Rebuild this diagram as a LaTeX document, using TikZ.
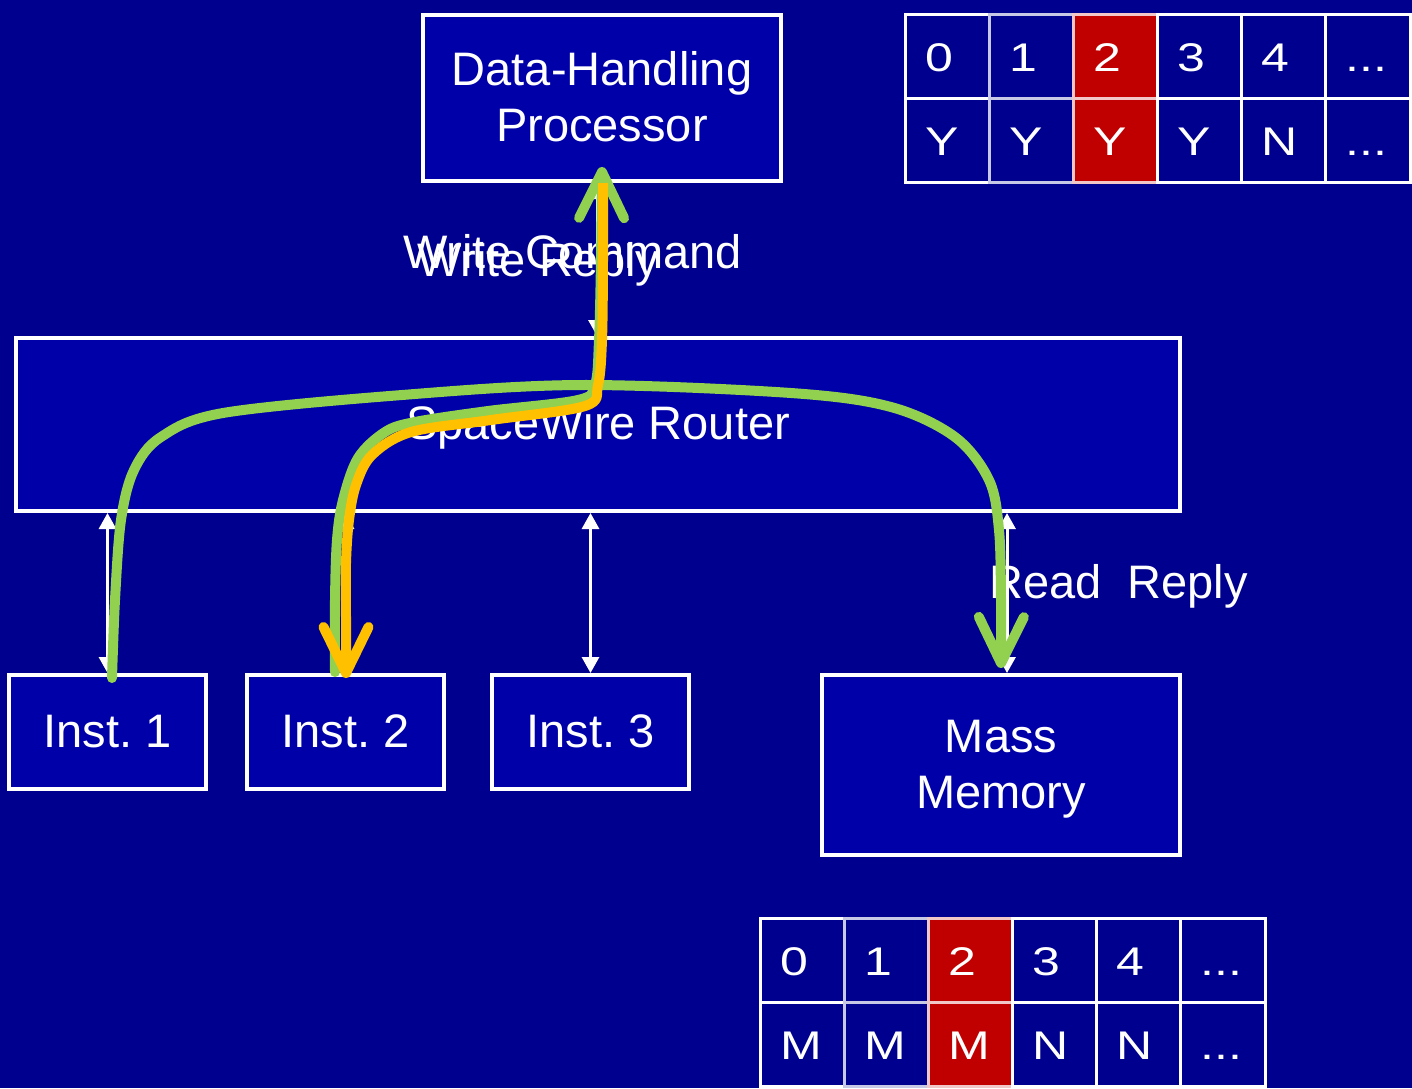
\documentclass[tikz,border=0pt]{standalone}
\usepackage{fontspec}
\setmainfont{Liberation Sans}
\usetikzlibrary{arrows.meta,calc}
\definecolor{bgblue}{RGB}{0,0,142}
\definecolor{boxblue}{RGB}{0,0,168}
\definecolor{cellred}{RGB}{192,0,0}
\definecolor{pathgreen}{RGB}{146,208,80}
\definecolor{pathyellow}{RGB}{255,192,0}
\newcommand{\fntbig}{\fontsize{47}{56}\selectfont}
\newcommand{\fntcell}{\fontsize{40}{48}\selectfont}
\newcommand{\tdots}{...}
\newcommand{\wide}[1]{\scalebox{1.25}[1]{#1}}
\newcommand{\lowtxt}[1]{\raisebox{-4pt}[\height][\depth]{\begin{tabular}{@{}c@{}}#1\end{tabular}}}
\frenchspacing
\begin{document}
\frenchspacing
\begin{tikzpicture}[x=1pt,y=-1pt,
 block/.style={draw=white, line width=4pt, fill=boxblue, text=white, font=\fntbig, align=center, inner sep=0pt},
 lbl/.style={font=\fntbig, text=white, anchor=base west, inner sep=0pt},
 link/.style={draw=white, line width=3pt, {Triangle[length=16pt,width=17pt]}-{Triangle[length=16pt,width=17pt]}},
 cell/.style={draw=white, line width=3pt, minimum width=84.17pt, minimum height=84pt, text width=44.17pt, inner xsep=20pt, inner ysep=0pt, align=left, text height=31pt, text depth=0pt, text=white, font=\fntcell, fill=bgblue},
 fadecell/.style={cell, draw=white!78!bgblue},
 redcell/.style={cell, fill=cellred, draw=white!78!cellred},
 route/.style={line width=10pt, line cap=round, line join=round},
 tiplarge/.style={-{Straight Barb[length=46pt,width=45pt,round]}}
]
\fill[bgblue] (0,0) rectangle (1412,1088);
\useasboundingbox (0,0) rectangle (1412,1088);

% boxes
\node[block, minimum width=358pt, minimum height=166pt] (dhp) at (602,98) {\lowtxt{Data-Handling\\Processor}};
\node[block, minimum width=1164pt, minimum height=173pt] (router) at (598,424.5) {\lowtxt{SpaceWire Router}};
\node[block, minimum width=197pt, minimum height=114pt] (inst1) at (107.5,732) {\lowtxt{Inst. 1}};
\node[block, minimum width=197pt, minimum height=114pt] (inst2) at (345.5,732) {\lowtxt{Inst. 2}};
\node[block, minimum width=197pt, minimum height=114pt] (inst3) at (590.5,732) {\lowtxt{Inst. 3}};
\node[block, minimum width=358pt, minimum height=180pt] (mm) at (1001,765) {\lowtxt{Mass\\Memory}};

% white links
\draw[link] ([xshift=-5pt]dhp.south) -- ([xshift=-5pt]dhp.south |- router.north);
\draw[link] (inst1.north) -- (inst1.north |- router.south);
\draw[link] (inst2.north) -- (inst2.north |- router.south);
\draw[link] (inst3.north) -- (inst3.north |- router.south);
\draw[link] ([xshift=6pt]mm.north) -- ([xshift=6pt]mm.north |- router.south);

% labels
\node[lbl] (wc) at (403,268) {Write Command};
\node[lbl] (wr) at (417,276) {Write Reply};
\node[lbl] (rr) at (989,598) {Read\ \ Reply};

% tables
\foreach \i/\a/\b/\st in {0/0/Y/cell,1/1/Y/fadecell,2/2/Y/redcell,3/3/Y/cell,4/4/N/cell,5/\tdots/\tdots/cell}{
  \node[\st] (tt-\i) at ({905+84.17*\i+42.08},56) {\wide{\a}};
  \node[\st] (tb-\i) at ({905+84.17*\i+42.08},140) {\wide{\b}};
}
\foreach \i/\a/\b/\st in {0/0/M/cell,1/1/M/fadecell,2/2/M/redcell,3/3/N/cell,4/4/N/cell,5/\tdots/\tdots/cell}{
  \node[\st] (mt-\i) at ({760+84.17*\i+42.08},960) {\wide{\a}};
  \node[\st] (mb-\i) at ({760+84.17*\i+42.08},1044) {\wide{\b}};
}

% coloured routes
\coordinate (g1s) at (112,678);
\coordinate (g1e) at (1001,668);
\coordinate (g2s) at (335,672);
\coordinate (g2e) at (602,167);
\coordinate (ys) at (603,183);
\coordinate (ye) at (346,678);

\draw[route, pathgreen, tiplarge] plot[smooth, tension=0.55] coordinates {(g1s) (115,600) (121,520) (134,470) (161,437) (223,413) (402,395) (580,385) (791,393) (891,407) (955,437) (989,480) (999,530) (1001,600) (g1e)};
\draw[route, pathgreen, tiplarge] plot[smooth, tension=0.55] coordinates {(g2s) (335,600) (337,540) (343,500) (358,458) (385,432) (415,422) (488,411) (578,400) (595,385) (599,340) (601,260) (g2e)};
\draw[route, pathyellow, line cap=butt, tiplarge] plot[smooth, tension=0.55] coordinates {(ys) (603,260) (602,340) (598,385) (585,406) (491,420) (411,432) (372,455) (356,485) (349,520) (346,563) (346,620) (ye)};
\end{tikzpicture}
\end{document}
